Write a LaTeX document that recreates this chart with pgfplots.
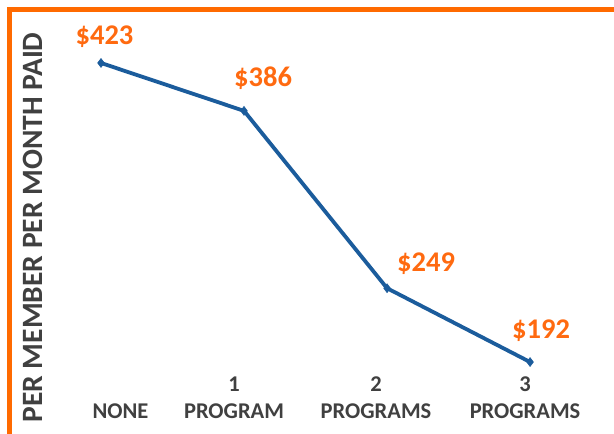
\documentclass[border=0pt]{standalone}
\usepackage{fontspec}
\setmainfont{Carlito}
\usepackage{pgfplots}
\pgfplotsset{compat=1.18}
\definecolor{lineblue}{HTML}{1B5C9C}
\definecolor{lblorange}{HTML}{FF6A10}
\definecolor{frameorange}{HTML}{FF6A00}
\definecolor{txtgray}{HTML}{404040}
\begin{document}
\begin{tikzpicture}
\useasboundingbox (0,0) rectangle (614bp,434bp);
\fill[white] (0,0) rectangle (614bp,434bp);
\draw[frameorange, line width=4.5bp] (9.5bp,0bp) -- (9.5bp,424.5bp) -- (614bp,424.5bp);
\begin{axis}[
  at={(44bp,59bp)}, anchor=south west,
  scale only axis, width=560bp, height=355bp,
  xmin=-0.3986, xmax=3.517, ymin=181.96, ymax=456.2,
  axis line style={draw=none}, major tick length=0pt,
  ytick=\empty,
  xtick={0.136,0.93,1.923,2.965},
  xticklabels={{\phantom{1}\\NONE},{1\\PROGRAM},{2\\PROGRAMS},{3\\PROGRAMS}},
  xticklabel style={align=center, font=\bfseries\fontsize{22.5bp}{27bp}\selectfont, text=txtgray, anchor=north, yshift=2bp},
  ylabel={PER MEMBER PER MONTH PAID},
  ylabel style={at={(rel axis cs:-0.0018,0.4155)}, anchor=base, rotate=0, font=\bfseries\fontsize{29.5bp}{31bp}\selectfont, text=txtgray},
  clip=false,
]
\addplot[lineblue, line width=3.8bp, mark=diamond*, mark size=4.5bp, mark options={solid, fill=lineblue, line width=0.5bp}]
  coordinates {(0,423) (1,386) (2,249) (3,192)};
\begin{scope}[every node/.style={anchor=base, text=lblorange, font=\bfseries\fontsize{28.5bp}{30bp}\selectfont}]
\node at (axis cs:0.0245,436.9) {\$423};
\node at (axis cs:1.133,404.5) {\$386};
\node at (axis cs:2.273,262.3) {\$249};
\node at (axis cs:3.077,210.5) {\$192};
\end{scope}
\end{axis}
\end{tikzpicture}
\end{document}
